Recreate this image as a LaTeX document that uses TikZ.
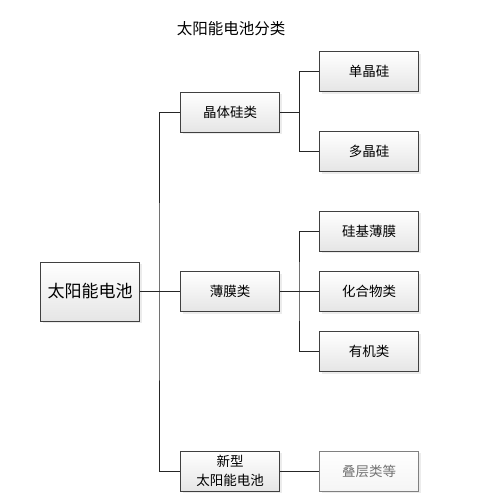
\documentclass[tikz,border=0pt]{standalone}
\usepackage{fontspec}
\setmainfont{Noto Sans CJK SC}
\usetikzlibrary{shadows}
\begin{document}
\begin{tikzpicture}[x=1pt,y=-1pt,
  box/.style={draw=black!75,line width=0.9pt,top color=white,bottom color=black!10,
    minimum width=99pt,minimum height=40pt,inner sep=0pt,align=center,
    font=\fontsize{13.5}{17}\selectfont,
    drop shadow={shadow xshift=2pt,shadow yshift=-2pt,fill=black!12,opacity=0.6}},
  faint/.style={draw=black!50,text=black!55,top color=white,bottom color=black!4},
  conn/.style={draw=black!85,line width=0.9pt}]
\useasboundingbox (0,0) rectangle (501,499);
\node[font=\fontsize{15.5}{18}\selectfont] (title) at (231,29) {太阳能电池分类};
\node[box,minimum width=99pt,minimum height=59pt,font=\fontsize{17}{20}\selectfont] (root) at (90,291.5) {太阳能电池};
\node[box] (cs) at (230,112) {晶体硅类};
\node[box] (tf) at (230,291.5) {薄膜类};
\node[box,font=\fontsize{13.5}{19}\selectfont] (nw) at (230,471) {新型\\太阳能电池};
\node[box] (mono) at (369,71.5) {单晶硅};
\node[box] (poly) at (369,151.5) {多晶硅};
\node[box] (sif) at (369,231) {硅基薄膜};
\node[box] (cmp) at (369,291.5) {化合物类};
\node[box] (org) at (369,351.5) {有机类};
\node[box,faint] (tan) at (369,471) {叠层类等};
\coordinate (t) at (159,0);
\coordinate (s1) at (299,0);
\draw[conn] (root.east) -- (tf.west);
\draw[conn] (cs.west) -| (t |- root.east) |- (nw.west);
\draw[conn] (tf.east) -- (cmp.west);
\draw[conn] (cs.east) -| (s1 |- mono.west) -- (mono.west);
\draw[conn] (s1 |- cs.east) |- (poly.west);
\draw[conn] (sif.west) -| (s1 |- tf.east) |- (org.west);
\draw[conn] (nw.east) -- (tan.west);
\end{tikzpicture}
\end{document}
